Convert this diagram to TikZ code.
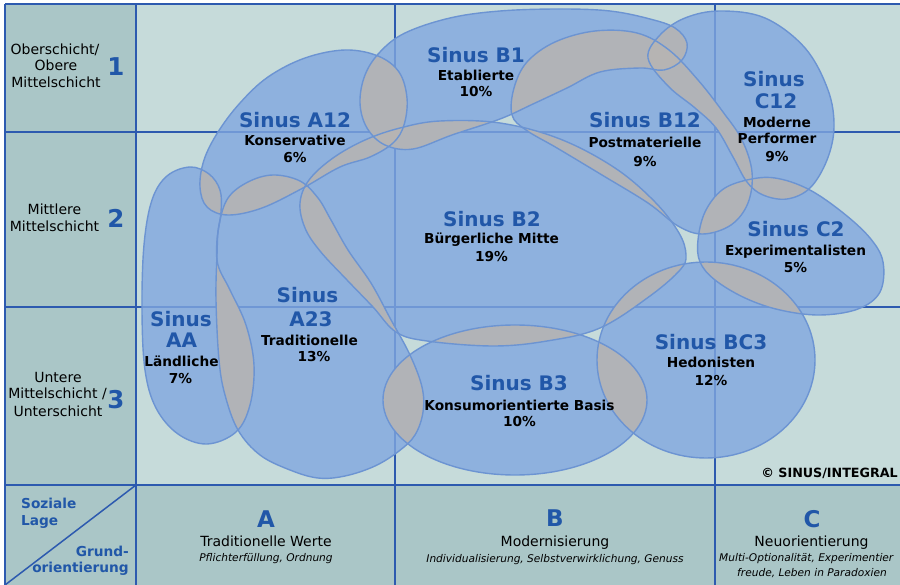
\documentclass[tikz,border=0pt]{standalone}
\usepackage{fontspec}
\setmainfont{DejaVu Sans}
\definecolor{cellA}{RGB}{170,198,199}
\definecolor{cellB}{RGB}{198,219,218}
\definecolor{framec}{RGB}{45,90,175}
\definecolor{sinusblue}{RGB}{33,87,168}
\definecolor{blobfill}{RGB}{128,167,223}
\definecolor{blobline}{RGB}{108,148,210}
\definecolor{lapfill}{RGB}{183,181,179}
\def\blobAA{plot[smooth cycle,tension=0.6] coordinates {(190,167) (209,174) (220,190) (221,212) (217,240) (218,265) (230,290) (246,325) (254,365) (250,405) (236,432) (207,444) (178,434) (156,408) (145,370) (142,310) (144,245) (152,200) (167,176)}}
\def\blobAtt{plot[smooth cycle,tension=0.6] coordinates {(273,175) (300,181) (318,198) (331,220) (348,250) (371,283) (390,318) (410,355) (422,387) (423,412) (415,435) (399,451) (375,466) (345,476) (318,478) (290,470) (260,455) (238,430) (225,395) (219,360) (216,300) (217,255) (219,225) (228,198) (248,182)}}
\def\blobAot{plot[smooth cycle,tension=0.6] coordinates {(200,187) (204,160) (218,132) (240,103) (268,77) (305,58) (345,50) (378,56) (399,72) (407,98) (404,125) (393,143) (370,157) (340,167) (303,188) (262,208) (228,215) (207,207)}}
\def\blobBo{plot[smooth cycle,tension=0.6] coordinates {(360,103) (365,75) (380,52) (405,33) (450,18) (500,11) (560,9) (610,11) (650,19) (675,28) (687,43) (682,60) (664,70) (640,68) (600,72) (567,88) (533,104) (500,119) (452,135) (413,149) (385,145) (367,128)}}
\def\blobBot{plot[smooth cycle,tension=0.6] coordinates {(512,115) (514,88) (527,62) (555,42) (595,31) (637,33) (669,50) (698,80) (723,112) (742,140) (752,172) (748,203) (731,225) (703,234) (678,226) (648,203) (602,175) (557,148) (526,130)}}
\def\blobBt{plot[smooth cycle,tension=0.6] coordinates {(300,203) (309,180) (333,158) (365,140) (400,128) (440,121) (500,123) (560,139) (615,168) (655,202) (679,233) (686,255) (680,270) (650,296) (600,328) (547,341) (493,346) (427,341) (396,332) (373,307) (347,280) (320,251) (305,228)}}
\def\blobBth{(515,400) ellipse [x radius=132pt, y radius=75pt]}
\def\blobBCth{(706,360) ellipse [x radius=109pt, y radius=98pt]}
\def\blobCot{plot[smooth cycle,tension=0.6] coordinates {(648,58) (660,35) (685,18) (720,11) (765,18) (805,48) (828,90) (834,127) (827,160) (810,188) (787,199) (763,195) (747,182) (733,157) (716,128) (695,108) (668,86)}}
\def\blobCt{plot[smooth cycle,tension=0.6] coordinates {(698,240) (705,212) (722,190) (747,180) (775,178) (808,189) (842,212) (870,238) (883,262) (880,292) (858,309) (820,315) (780,310) (745,298) (715,280) (700,262)}}
\def\mklap#1#2{\begin{scope}\clip #1; \path[lap] #2; \end{scope}}
\begin{document}
\begin{tikzpicture}[x=1pt,y=-1pt,
  blob/.style={fill=blobfill, fill opacity=0.8},
  lap/.style={fill=lapfill, fill opacity=0.9},
  blobedge/.style={draw=blobline, line width=1.4pt},
  gridline/.style={draw=framec, line width=1.8pt},
  title/.style={font=\fontsize{20}{23}\selectfont\bfseries, text=sinusblue, inner sep=0pt, anchor=base},
  sub/.style={font=\fontsize{13.7}{16}\selectfont\bfseries, text=black, inner sep=0pt, anchor=base},
  rowtxt/.style={font=\fontsize{14}{16}\selectfont, text=black, inner sep=0pt, anchor=base},
  bignum/.style={font=\fontsize{24.5}{25}\selectfont\bfseries, text=sinusblue, inner sep=0pt, anchor=base},
  axistxt/.style={font=\fontsize{13.7}{16}\selectfont\bfseries, text=sinusblue, inner sep=0pt},
  colhead/.style={font=\fontsize{23}{25}\selectfont\bfseries, text=sinusblue, inner sep=0pt, anchor=base},
  coltxt/.style={font=\fontsize{14}{16}\selectfont, text=black, inner sep=0pt, anchor=base},
  colnote/.style={font=\fontsize{10.6}{12}\selectfont\itshape, text=black, inner sep=0pt, anchor=base}]
\useasboundingbox (0,0) rectangle (900,585);
% backgrounds
\fill[white] (0,0) rectangle (900,585);
\fill[cellA] (5,4) rectangle (136,585);
\fill[cellA] (136,485) rectangle (900,585);
\fill[cellB] (136,4) rectangle (900,485);
% grid
\draw[gridline] (5,4) -- (900,4);
\draw[gridline] (5,4) -- (5,585);
\draw[gridline] (136,4) -- (136,585);
\draw[gridline] (395,4) -- (395,585);
\draw[gridline] (715,4) -- (715,585);
\draw[gridline] (5,132) -- (900,132);
\draw[gridline] (5,307) -- (900,307);
\draw[gridline] (5,485) -- (900,485);
\draw[framec, line width=1.5pt] (5,585) -- (136,485);
% blobs
\path[blob] \blobAA;
\path[blob] \blobAtt;
\path[blob] \blobAot;
\path[blob] \blobBo;
\path[blob] \blobBot;
\path[blob] \blobBt;
\path[blob] \blobBth;
\path[blob] \blobBCth;
\path[blob] \blobCot;
\path[blob] \blobCt;
% overlaps
\mklap{\blobAot}{\blobAA}
\mklap{\blobAot}{\blobAtt}
\mklap{\blobAot}{\blobBt}
\mklap{\blobAot}{\blobBo}
\mklap{\blobBo}{\blobBt}
\mklap{\blobBo}{\blobBot}
\mklap{\blobBo}{\blobCot}
\mklap{\blobBot}{\blobBt}
\mklap{\blobBot}{\blobCot}
\mklap{\blobBot}{\blobCt}
\mklap{\blobCot}{\blobCt}
\mklap{\blobCt}{\blobBCth}
\mklap{\blobBt}{\blobBCth}
\mklap{\blobBt}{\blobBth}
\mklap{\blobBt}{\blobAtt}
\mklap{\blobAtt}{\blobAA}
\mklap{\blobAtt}{\blobBth}
\mklap{\blobBth}{\blobBCth}
% outlines
\path[blobedge] \blobAA;
\path[blobedge] \blobAtt;
\path[blobedge] \blobAot;
\path[blobedge] \blobBo;
\path[blobedge] \blobBot;
\path[blobedge] \blobBt;
\path[blobedge] \blobBth;
\path[blobedge] \blobBCth;
\path[blobedge] \blobCot;
\path[blobedge] \blobCt;
% row labels
\node[rowtxt] (r1a) at (55,54.5) {Oberschicht/};
\node[rowtxt] (r1b) at (56,71) {Obere};
\node[rowtxt] (r1c) at (56,87.7) {Mittelschicht};
\node[bignum] (n1) at (116,76) {1};
\node[rowtxt] (r2a) at (54.5,215) {Mittlere};
\node[rowtxt] (r2b) at (54.5,231.7) {Mittelschicht};
\node[bignum] (n2) at (116,227.7) {2};
\node[rowtxt] (r3a) at (58,382.7) {Untere};
\node[rowtxt] (r3b) at (57.5,399) {Mittelschicht /};
\node[rowtxt] (r3c) at (58,416) {Unterschicht};
\node[bignum] (n3) at (116,408) {3};
% axis corner
\node[axistxt, anchor=base west] (soz1) at (21,508) {Soziale};
\node[axistxt, anchor=base west] (soz2) at (21,525.7) {Lage};
\node[axistxt, anchor=base east] (gr1) at (129,556) {Grund-};
\node[axistxt, anchor=base east] (gr2) at (129,572.7) {orientierung};
% column labels
\node[colhead] (ca) at (266,527) {A};
\node[coltxt] (cat) at (266,546) {Traditionelle Werte};
\node[colnote] (can) at (266,561.7) {Pflichterfüllung, Ordnung};
\node[colhead] (cb) at (555,526) {B};
\node[coltxt] (cbt) at (555,546) {Modernisierung};
\node[colnote] (cbn) at (555,562) {Individualisierung, Selbstverwirklichung, Genuss};
\node[colhead] (cc) at (812,527) {C};
\node[coltxt] (cct) at (811.5,546) {Neuorientierung};
\node[colnote, anchor=base west] (ccn1) at (719,561.7) {Multi-Optionalität, Experimentier};
\node[colnote] (ccn2) at (812,576) {freude, Leben in Paradoxien};
% milieu labels
\node[title] (tA12) at (295,127.5) {Sinus A12};
\node[sub] (sA12) at (295,146) {Konservative};
\node[sub] (pA12) at (295,163) {6\%};
\node[title] (tB1) at (476,62.5) {Sinus B1};
\node[sub] (sB1) at (476,80.5) {Etablierte};
\node[sub] (pB1) at (476,97) {10\%};
\node[title] (tB12) at (645,128) {Sinus B12};
\node[sub] (sB12) at (645,147.7) {Postmaterielle};
\node[sub] (pB12) at (645,166.5) {9\%};
\node[title] (tC12a) at (774,87) {Sinus};
\node[title] (tC12b) at (776,109) {C12};
\node[sub] (sC12a) at (777,127.5) {Moderne};
\node[sub] (sC12b) at (777,144) {Performer};
\node[sub] (pC12) at (777,161.5) {9\%};
\node[title] (tC2) at (796,237) {Sinus C2};
\node[sub] (sC2) at (795.5,256) {Experimentalisten};
\node[sub] (pC2) at (795.5,272.5) {5\%};
\node[title] (tB2) at (492,227) {Sinus B2};
\node[sub] (sB2) at (491.5,244) {Bürgerliche Mitte};
\node[sub] (pB2) at (491.5,262) {19\%};
\node[title] (tA23a) at (307.5,303) {Sinus};
\node[title] (tA23b) at (311,327) {A23};
\node[sub] (sA23) at (309.5,345.7) {Traditionelle};
\node[sub] (pA23) at (314,362) {13\%};
\node[title] (tAAa) at (181,327) {Sinus};
\node[title] (tAAb) at (181.5,348) {AA};
\node[sub] (sAA) at (181.5,366.7) {Ländliche};
\node[sub] (pAA) at (180.5,384) {7\%};
\node[title] (tB3) at (519,391) {Sinus B3};
\node[sub] (sB3) at (519.5,410) {Konsumorientierte Basis};
\node[sub] (pB3) at (519.5,426) {10\%};
\node[title] (tBC3) at (711,350) {Sinus BC3};
\node[sub] (sBC3) at (711,368) {Hedonisten};
\node[sub] (pBC3) at (711,385.7) {12\%};
\node[font=\fontsize{12.7}{14}\selectfont\bfseries, text=black, inner sep=0pt, anchor=base east] (copy) at (898,477) {© SINUS/INTEGRAL};
\end{tikzpicture}
\end{document}
